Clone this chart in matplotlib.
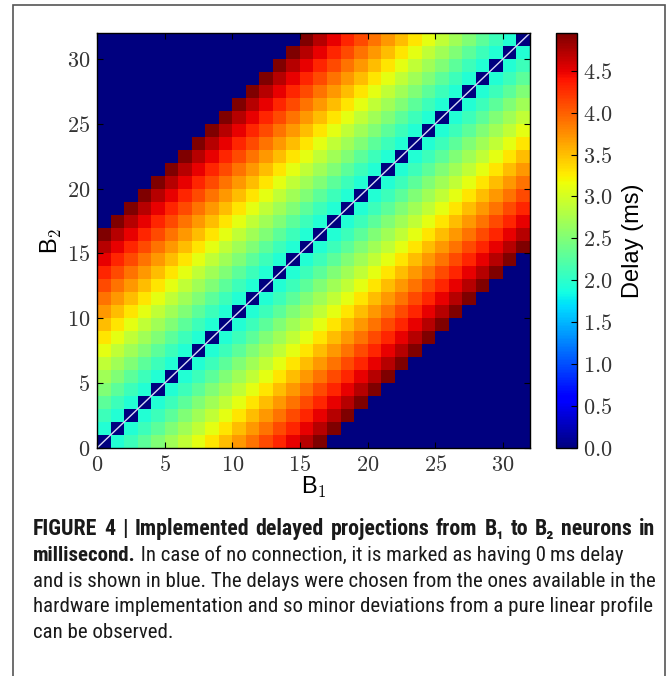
import numpy as np
import matplotlib
matplotlib.use("Agg")
import matplotlib.pyplot as plt
from matplotlib import font_manager
from matplotlib.ticker import FuncFormatter, FixedLocator
from matplotlib.patches import Rectangle

# ---------------- data ----------------
n_neurons = 32
# delay (ms) as a function of |B2 - B1| (index = offset); offsets > 16 have no connection (0 ms)
offset_delays = [0.0, 1.95, 2.1, 2.3, 2.5, 2.7, 2.9, 3.1, 3.3, 3.5,
                 3.7, 3.9, 4.1, 4.3, 4.5, 4.7, 4.95]
axis_ticks = [0, 5, 10, 15, 20, 25, 30]
cbar_ticks = [0.0, 0.5, 1.0, 1.5, 2.0, 2.5, 3.0, 3.5, 4.0, 4.5]
vmax = 4.95

caption_title = "FIGURE 4 | Implemented delayed projections from B\u2081 to B\u2082 neurons in"
caption_lines = [
    [("millisecond.", "bold"), (" In case of no connection, it is marked as having 0\u2009ms delay", "normal")],
    [("and is shown in blue. The delays were chosen from the ones available in the", "normal")],
    [("hardware implementation and so minor deviations from a pure linear profile", "normal")],
    [("can be observed.", "normal")],
]

# --------------- matrix ----------------
delay = np.zeros((n_neurons, n_neurons))
for b2 in range(n_neurons):
    for b1 in range(n_neurons):
        d = abs(b2 - b1)
        if d < len(offset_delays):
            delay[b2, b1] = offset_delays[d]

# --------------- fonts -----------------
plt.rcParams["mathtext.fontset"] = "cm"
ttf = font_manager.fontManager.ttflist
names = {f.name for f in ttf}
sans = "Liberation Sans" if "Liberation Sans" in names else "DejaVu Sans"


def is_condensed(f):
    st = f.stretch
    if isinstance(st, str):
        if "condensed" in st:
            return True
    else:
        try:
            if int(st) <= 87:
                return True
        except Exception:
            pass
    return ("Narrow" in f.name) or ("Condensed" in f.name)


cap_family, cap_stretch = sans, "normal"
pref = ["Liberation Sans Narrow", "Arial Narrow", "Roboto Condensed", "Open Sans Condensed",
        "Noto Sans", "Roboto", "Open Sans", "Lato", "DejaVu Sans"]
found = False
for p in pref:
    for f in ttf:
        if f.name == p and is_condensed(f):
            cap_family, cap_stretch = f.name, f.stretch
            found = True
            break
    if found:
        break

W, H = 671, 676
fig = plt.figure(figsize=(W / 100, H / 100), dpi=100)
fig.patch.set_facecolor("white")

ax = fig.add_axes([97 / W, 1 - 448 / H, 433 / W, 415 / H])
im = ax.imshow(delay, origin="lower", extent=[0, n_neurons, 0, n_neurons],
               cmap="jet", vmin=0, vmax=vmax, aspect="auto", interpolation="nearest")
ax.plot([0, n_neurons], [0, n_neurons], color="#d8d8f4", lw=1.0)
ax.set_xlim(0, n_neurons)
ax.set_ylim(0, n_neurons)
fmt = FuncFormatter(lambda v, p: r"$%g$" % v)
ax.xaxis.set_major_locator(FixedLocator(axis_ticks))
ax.yaxis.set_major_locator(FixedLocator(axis_ticks))
ax.xaxis.set_major_formatter(fmt)
ax.yaxis.set_major_formatter(fmt)
ax.tick_params(direction="in", top=True, right=True, length=4, width=0.8,
               labelsize=16, pad=5, labelcolor="#333333")
for s in ax.spines.values():
    s.set_linewidth(1.0)

ax.set_xlabel(r"B$_1$", fontsize=17, family=sans, labelpad=0)
ax.set_ylabel(r"B$_2$", fontsize=17, family=sans, labelpad=2)

cax = fig.add_axes([556 / W, 1 - 448 / H, 21 / W, 415 / H])
cb = fig.colorbar(im, cax=cax)
cb.set_ticks(cbar_ticks)
cb.ax.yaxis.set_major_formatter(FuncFormatter(lambda v, p: r"$%.1f$" % v))
cax.tick_params(direction="in", length=4, width=0.8, labelsize=16, pad=4, labelcolor="#333333")
cb.outline.set_linewidth(1.0)
cb.set_label("Delay (ms)", fontsize=17, family=sans, labelpad=7)

# frame around the figure
fig.add_artist(Rectangle((13 / W, -0.02), (665 - 13) / W, 1 - 5 / H + 0.02,
                         transform=fig.transFigure, fill=False,
                         edgecolor="#555555", lw=1.2))

# --------------- caption ---------------
x0, x_right = 33, 655
baselines = [535, 561, 587, 612, 638]
fs = 13
kw = dict(family=[cap_family, sans, "DejaVu Sans"], fontstretch=cap_stretch,
          va="baseline", ha="left", color="#1a1a1a")

texts = []
for line, yb in zip(caption_lines, baselines[1:]):
    row = []
    for s, w in line:
        row.append(fig.text(x0 / W, 1 - yb / H, s, fontsize=fs, fontweight=w, **kw))
    texts.append(row)

fig.canvas.draw()
r = fig.canvas.get_renderer()
w_ref = texts[1][0].get_window_extent(r).width
fs_new = min(fs * (x_right - x0) / w_ref, 16)
for row in texts:
    for t in row:
        t.set_fontsize(fs_new)
fig.canvas.draw()
for row in texts:
    x = x0
    for t in row:
        t.set_x(x / W)
        fig.canvas.draw()
        x = t.get_window_extent(r).x1

# bold title line: slightly larger, then justified to the full text width
title = fig.text(x0 / W, 1 - baselines[0] / H, caption_title, fontsize=fs_new,
                 fontweight="bold", **kw)
fig.canvas.draw()
wt_full = title.get_window_extent(r).width
title.remove()
fs_title = fs_new * (1 + 0.6 * ((x_right - x0) / wt_full - 1))
words = caption_title.split(" ")
wt = [fig.text(x0 / W, 1 - baselines[0] / H, w, fontsize=fs_title, fontweight="bold", **kw)
      for w in words]
fig.canvas.draw()
widths = [t.get_window_extent(r).width for t in wt]
gap = (x_right - x0 - sum(widths)) / (len(words) - 1)
x = x0
for t, w in zip(wt, widths):
    t.set_x(x / W)
    x += w + gap

fig.savefig("out.png", dpi=100)
